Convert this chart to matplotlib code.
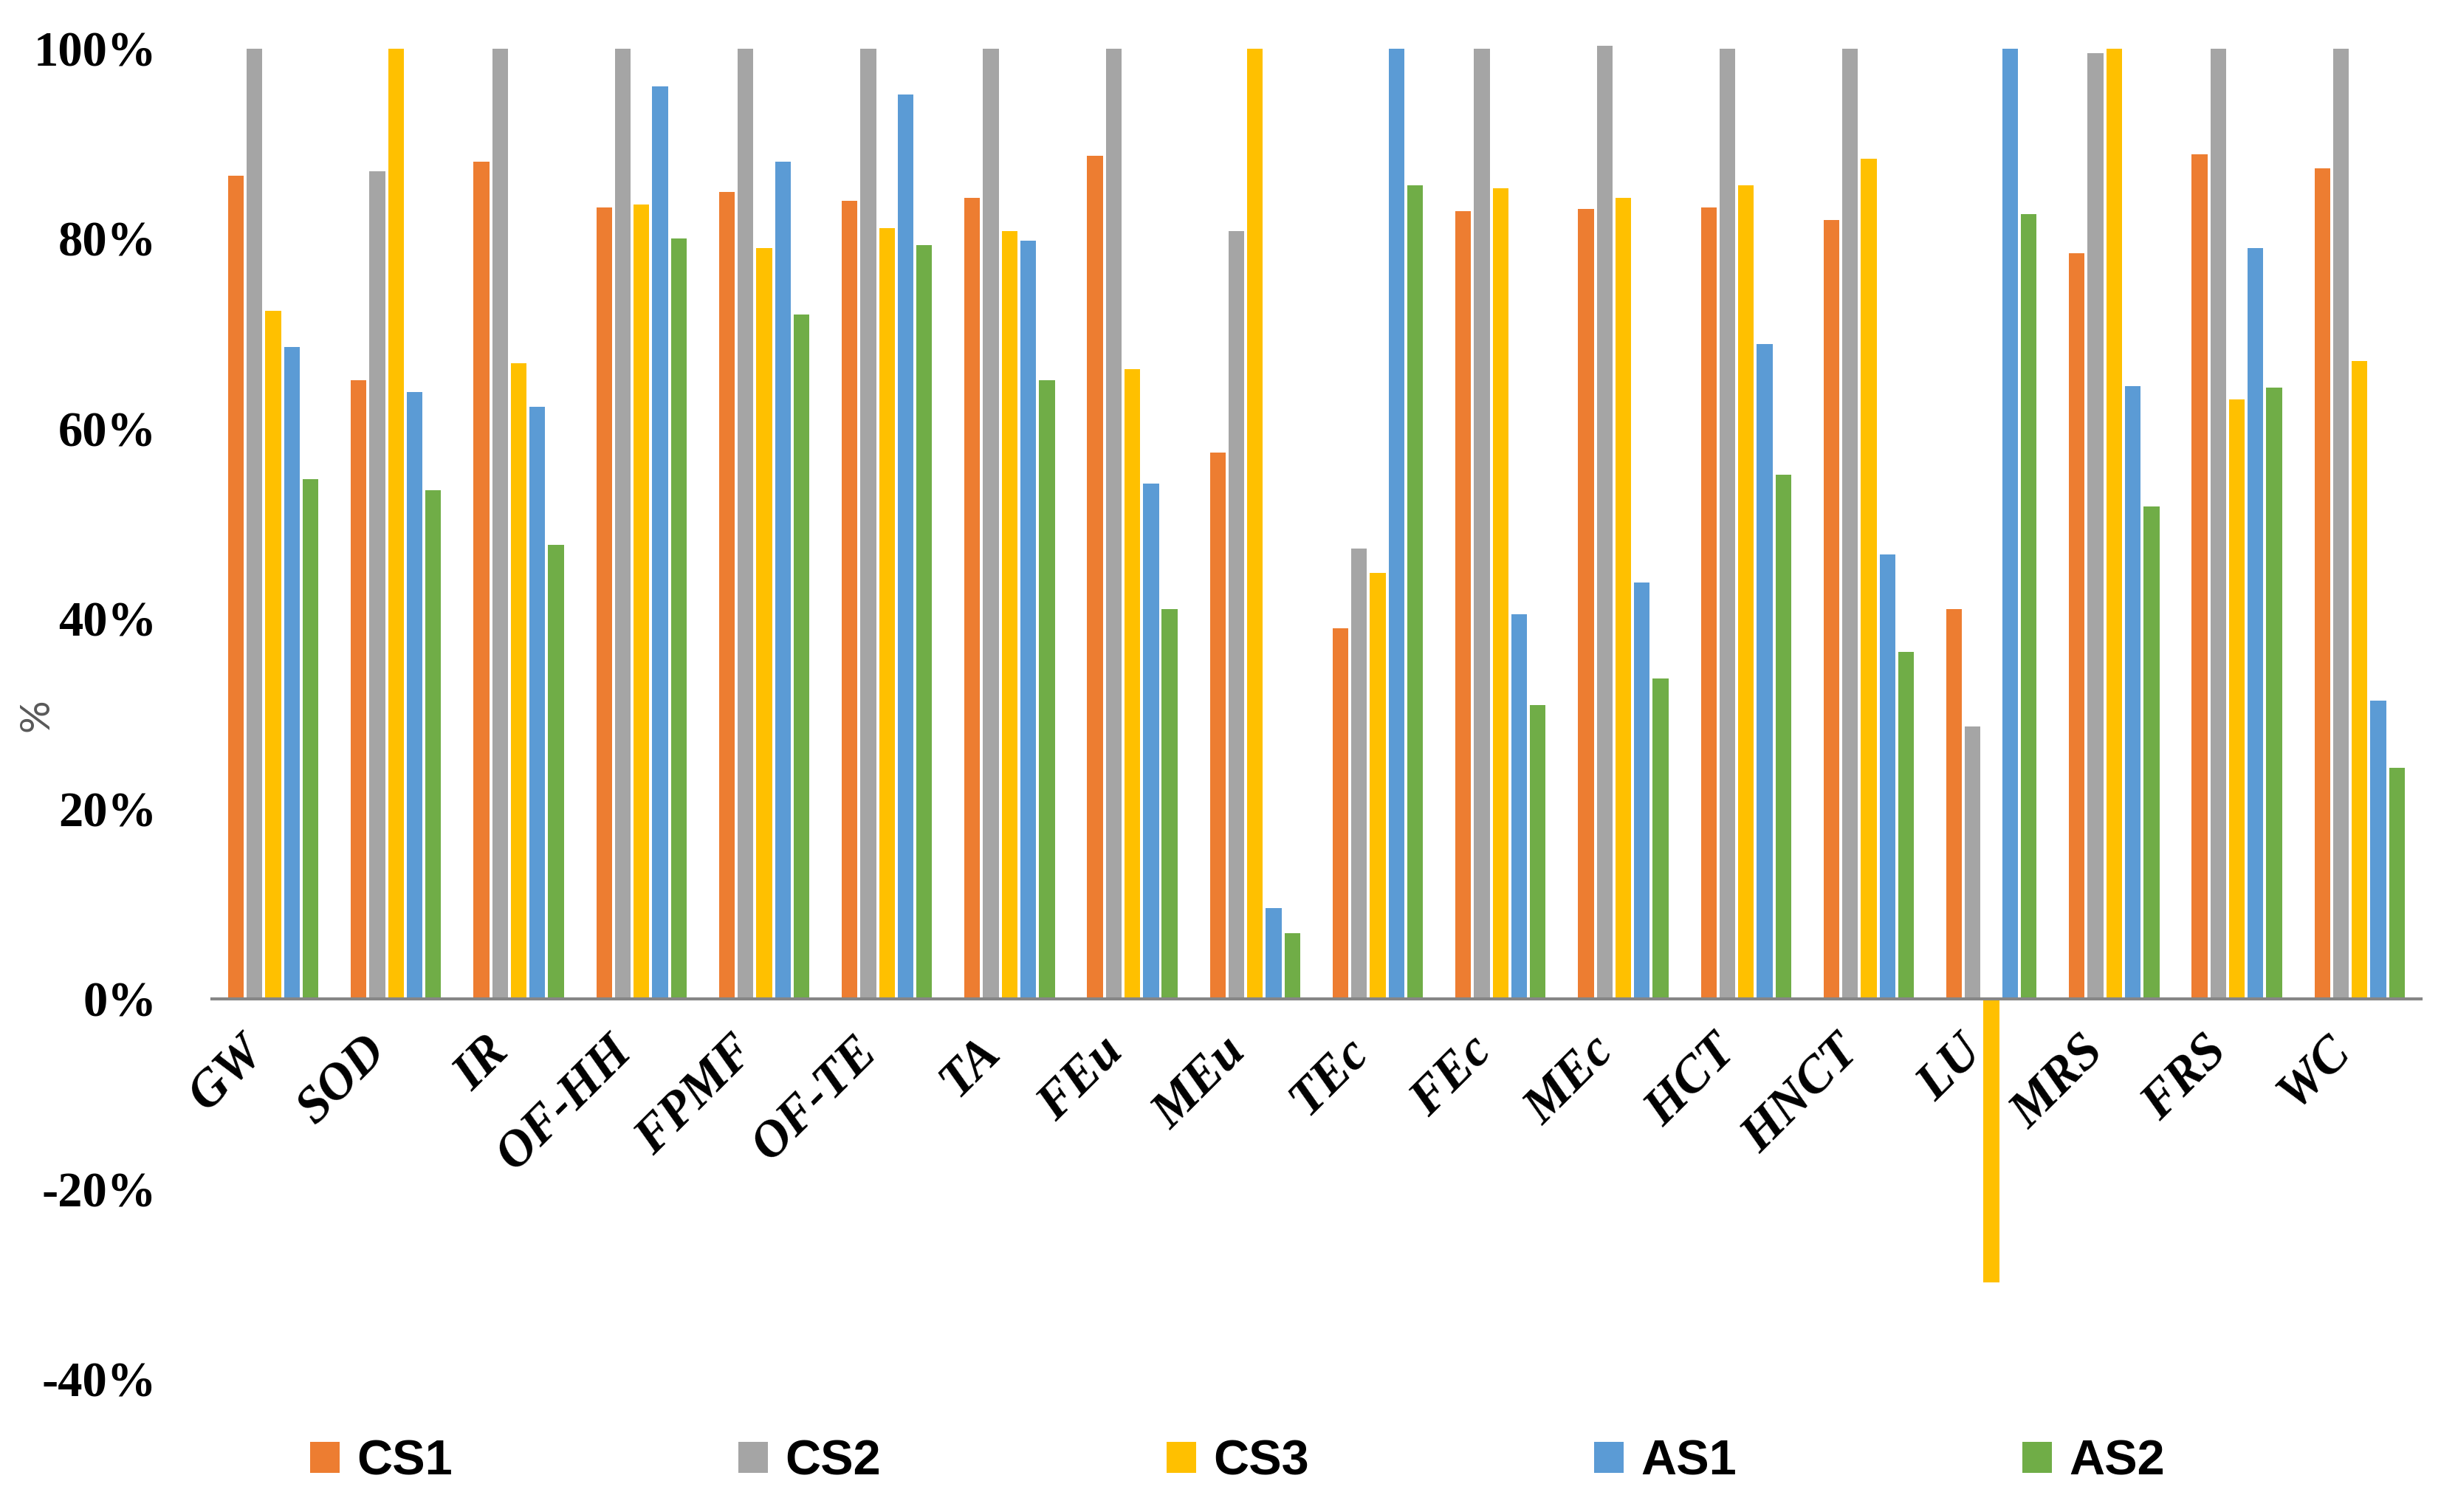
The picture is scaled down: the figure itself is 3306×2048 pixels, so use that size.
import numpy as np
import matplotlib
matplotlib.use("Agg")
import matplotlib.pyplot as plt
from matplotlib.patches import Patch

# categories and series (percent)
categories = ["GW", "SOD", "IR", "OF-HH", "FPMF", "OF-TE", "TA", "FEu", "MEu",
              "TEc", "FEc", "MEc", "HCT", "HNCT", "LU", "MRS", "FRS", "WC"]
series_names = ["CS1", "CS2", "CS3", "AS1", "AS2"]
cs1 = [86.6, 65.1, 88.1, 83.3, 84.9, 84.0, 84.3, 88.7, 57.5,
       39.0, 82.9, 83.1, 83.3, 82.0, 41.0, 78.5, 88.9, 87.4]
cs2 = [100, 87.1, 100, 100, 100, 100, 100, 100, 80.8,
       47.4, 100, 100.3, 100, 100, 28.7, 99.5, 100, 100]
cs3 = [72.4, 100, 66.9, 83.6, 79.0, 81.1, 80.8, 66.3, 100,
       44.8, 85.3, 84.3, 85.6, 88.4, -29.8, 100, 63.1, 67.1]
as1 = [68.6, 63.9, 62.3, 96.0, 88.1, 95.2, 79.8, 54.2, 9.6,
       100, 40.5, 43.8, 68.9, 46.8, 100, 64.5, 79.0, 31.4]
as2 = [54.7, 53.5, 47.8, 80.0, 72.0, 79.3, 65.1, 41.0, 6.9,
       85.6, 30.9, 33.7, 55.2, 36.5, 82.6, 51.8, 64.3, 24.3]
colors = ["#ED7D31", "#A5A5A5", "#FFC000", "#5B9BD5", "#70AD47"]

values = [cs1, cs2, cs3, as1, as2]

fig = plt.figure(figsize=(16.53, 10.24), dpi=200)
ax = fig.add_axes([0.0868, 0.0879, 0.905, 0.8799])

x = np.arange(len(categories))
step = 0.152
width = 0.128
for i, (vals, c) in enumerate(zip(values, colors)):
    ax.bar(x + (i - 2) * step, np.array(vals) / 100.0, width=width, color=c,
           zorder=2, clip_on=False)

# zero line as the x axis (set before tick labels, it resets them)
for s in ["top", "left", "right"]:
    ax.spines[s].set_visible(False)
ax.spines["bottom"].set_position(("data", 0))
ax.spines["bottom"].set_color("#868686")
ax.spines["bottom"].set_linewidth(1.5)
ax.set_axisbelow(False)

ax.set_xlim(-0.5, len(categories) - 0.5)
ax.set_ylim(-0.4, 1.0)
yt = np.arange(-0.4, 1.01, 0.2)
ax.set_yticks(yt)
ax.set_yticklabels([f"{int(round(v * 100))}%" for v in yt],
                   family="Liberation Serif", fontweight="bold", fontsize=24)
ax.tick_params(axis="y", length=0, pad=27)
ax.set_xticks(x)
ax.set_xticklabels(categories, rotation=45, ha="right", va="top",
                   family="Liberation Serif", fontweight="bold", style="italic",
                   fontsize=25)
ax.tick_params(axis="x", length=0, pad=14)

fig.text(50 / 3306, 1 - 969 / 2048, "%", rotation=90, ha="center", va="center",
         family="Lato", fontsize=20, color="#595959")

handles = [Patch(facecolor=c, edgecolor="none") for c in colors]
fig.legend(handles, series_names, loc="center left", ncol=5, frameon=False,
           bbox_to_anchor=(0.109, 0.033), handlelength=0.6, handleheight=0.6,
           handletextpad=0.35, columnspacing=5.8,
           prop={"family": ["Liberation Sans Narrow", "Liberation Sans"],
                 "weight": "bold", "size": 24})

fig.savefig("out.png", dpi=200)
